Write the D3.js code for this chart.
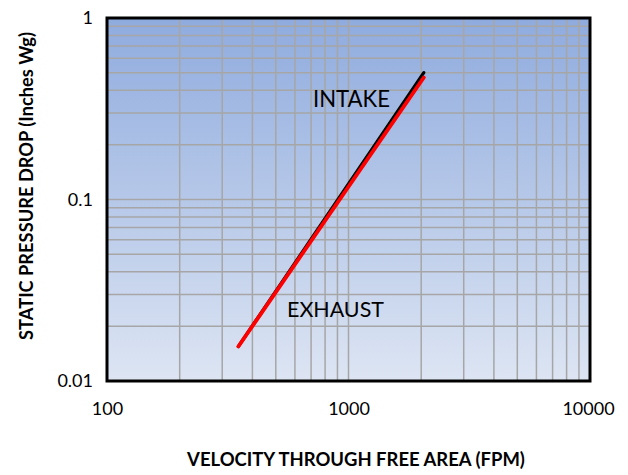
<!DOCTYPE html>
<html><head><meta charset="utf-8">
<script src="https://cdn.jsdelivr.net/npm/d3@7"></script>
<style>body{margin:0;background:#fff}text{font-family:Lato,"Open Sans",sans-serif}</style>
</head><body><svg id="c" width="628" height="475"></svg>
<script>
const xTicks = [100, 1000, 10000];
const yTicks = [0.01, 0.1, 1];
const intakeVelocity = [350, 2050];
const intakePressure = [0.0155, 0.50];
const exhaustVelocity = [350, 2050];
const exhaustPressure = [0.0155, 0.47];
const seriesNames = ["INTAKE", "EXHAUST"];

const svg = d3.select("#c");
const L = 107, R = 590, T = 18, B = 381;
const x = d3.scaleLog().domain([100, 10000]).range([L, R]);
const y = d3.scaleLog().domain([0.01, 1]).range([B, T]);

function fit(sel, w) {
  const cur = +sel.attr("font-size");
  const len = sel.node().getComputedTextLength();
  sel.attr("font-size", cur * w / len);
  return sel;
}

const defs = svg.append("defs");
const g = defs.append("linearGradient").attr("id", "bg").attr("x1", 0).attr("y1", 0).attr("x2", 0).attr("y2", 1);
g.append("stop").attr("offset", "0%").attr("stop-color", "#8FABDE");
g.append("stop").attr("offset", "100%").attr("stop-color", "#DDE5F3");
svg.append("rect").attr("x", L).attr("y", T).attr("width", R - L).attr("height", B - T).attr("fill", "url(#bg)");

const xg = [];
for (let d = 100; d < 10000; d *= 10) for (let k = 1; k <= 9; k++) if (!(k === 1 && d === 100)) xg.push(k * d);
const yg = [];
for (let d = 0.01; d < 0.99; d *= 10) for (let k = 1; k <= 9; k++) if (!(k === 1 && d < 0.011)) yg.push(k * d);
svg.append("g").selectAll("line").data(xg).join("line")
  .attr("x1", d => x(d)).attr("x2", d => x(d)).attr("y1", T).attr("y2", B)
  .attr("stroke", "#A6A6A6").attr("stroke-width", 1.5);
svg.append("g").selectAll("line").data(yg).join("line")
  .attr("y1", d => y(d)).attr("y2", d => y(d)).attr("x1", L).attr("x2", R)
  .attr("stroke", "#A6A6A6").attr("stroke-width", 1.5);

const line = d3.line().x(d => x(d[0])).y(d => y(d[1]));
svg.append("path").datum(d3.zip(intakeVelocity, intakePressure)).attr("d", line)
  .attr("fill", "none").attr("stroke", "#000").attr("stroke-width", 3.2).attr("stroke-linecap", "round");
svg.append("path").datum(d3.zip(exhaustVelocity, exhaustPressure)).attr("d", line)
  .attr("fill", "none").attr("stroke", "#FF0000").attr("stroke-width", 3.8).attr("stroke-linecap", "round");

svg.append("rect").attr("x", L).attr("y", T).attr("width", R - L).attr("height", B - T)
  .attr("fill", "none").attr("stroke", "#000").attr("stroke-width", 3);

const xa = svg.append("g").attr("transform", `translate(0,${B})`)
  .call(d3.axisBottom(x).tickValues(xTicks).tickFormat(d3.format("d")).tickSize(0).tickPadding(21));
const ya = svg.append("g").attr("transform", `translate(93,0)`)
  .call(d3.axisLeft(y).tickValues(yTicks).tickFormat(d => String(d)).tickSize(0).tickPadding(0));
[xa, ya].forEach(a => { a.select(".domain").remove(); a.selectAll("text").attr("font-size", 18).attr("fill", "#000").style("font-family", 'Lato,"Open Sans",sans-serif'); });
xa.selectAll("text").filter(d => d === 10000).attr("dx", -2);

fit(svg.append("text").attr("x", 313).attr("y", 107).attr("font-size", 20).text(seriesNames[0]), 77);
fit(svg.append("text").attr("x", 287).attr("y", 317).attr("font-size", 20).text(seriesNames[1]), 97);

fit(svg.append("text").attr("x", 356).attr("y", 466).attr("text-anchor", "middle")
  .attr("font-size", 16).attr("font-weight", "bold").text("VELOCITY THROUGH FREE AREA (FPM)"), 338);
fit(svg.append("text").attr("transform", "translate(33,186) rotate(-90)").attr("text-anchor", "middle")
  .attr("font-size", 16).attr("font-weight", "bold").text("STATIC PRESSURE DROP (Inches Wg)"), 308);
</script></body></html>
